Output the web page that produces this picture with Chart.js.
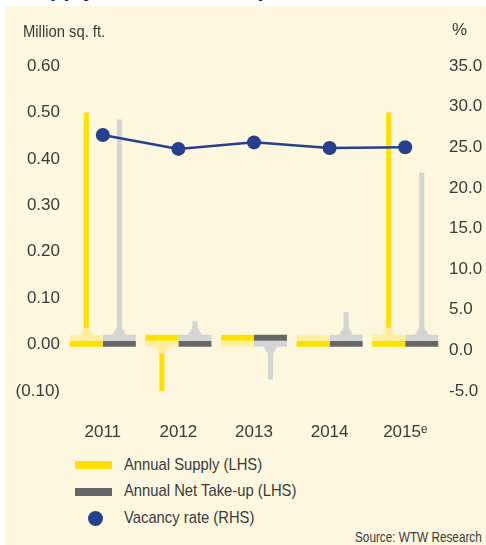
<!DOCTYPE html>
<html>
<head>
<meta charset="utf-8">
<script src="https://cdn.jsdelivr.net/npm/chart.js@4.4.0/dist/chart.umd.min.js"></script>
<style>
  body { margin: 0; background: #fff; width: 486px; height: 545px; overflow: hidden; position: relative;
         font-family: "Liberation Sans", sans-serif; color: #3a3a3a; }
  #title { position: absolute; left: 22px; top: -24px; font: bold 22px "Liberation Sans", sans-serif; color: #222; white-space: nowrap; }
  #panel { position: absolute; left: 5px; top: 6px; width: 481px; height: 539px; background: #FDF7DF; }
  #chart { position: absolute; left: 0; top: 0; }
  .lbl { position: absolute; font-size: 17px; white-space: nowrap; transform-origin: 0 50%; transform: scaleX(0.87); }
  .sw { position: absolute; left: 75px; width: 37px; height: 8px; }
  .dot { position: absolute; left: 88px; width: 15px; height: 15px; border-radius: 50%; background: #263F8E; }
</style>
</head>
<body>
<div id="title">Supply and Net Take-up</div>
<div id="panel"></div>
<canvas id="chart" width="486" height="455"></canvas>

<div class="lbl" style="left:23px;top:22px;">Million sq. ft.</div>
<div class="lbl" style="left:452px;top:20px;transform:none;">%</div>

<!-- legend -->
<div class="sw" style="top:461px;background:#FFE000;"></div>
<div class="lbl" style="left:124px;top:455px;">Annual Supply (LHS)</div>
<div class="sw" style="top:488px;background:#666666;"></div>
<div class="lbl" style="left:124px;top:481px;">Annual Net Take-up (LHS)</div>
<div class="dot" style="top:511px;"></div>
<div class="lbl" style="left:124px;top:508px;">Vacancy rate (RHS)</div>
<div class="lbl" style="left:355px;top:529px;font-size:14px;transform:scaleX(0.84);">Source: WTW Research</div>

<script>
// categories and values
const years = ["2011", "2012", "2013", "2014", "2015\u1D49"];
const supply = [0.50, -0.10, 0.00, 0.005, 0.50];     // million sq. ft.
const netTakeUp = [0.485, 0.05, -0.075, 0.07, 0.37]; // million sq. ft.
const vacancy = [26.5, 24.8, 25.6, 24.9, 25.0];      // %

// the flat "base" strips drawn at zero for every bar
const STRIP_HI = 0.021;
const STRIP_MID = 0.0085;
const STRIP_LO = -0.0045;

const YELLOW = "#FFE000";
const YELLOW_LIGHT = "#FFEFA0";
const GREY_DARK = "#666666";
const GREY_LIGHT = "#D4D4D4";
const BLUE = "#263F8E";

const CAT_PCT = 0.874;

// light strip on top for positive values, dark on top otherwise
function strips(values, dark, light, stack) {
  return [
    {
      type: "bar", stack: stack, order: 1,
      data: values.map(() => [STRIP_MID, STRIP_HI]),
      backgroundColor: values.map(v => (v > 0 ? light : dark)),
      barPercentage: 1, categoryPercentage: CAT_PCT, yAxisID: "y",
    },
    {
      type: "bar", stack: stack, order: 1,
      data: values.map(() => [STRIP_LO, STRIP_MID]),
      backgroundColor: values.map(v => (v > 0 ? dark : light)),
      barPercentage: 1, categoryPercentage: CAT_PCT, yAxisID: "y",
    },
  ];
}

// thin stem from zero to the value, centred in the same slot as its strips
function stem(values, color, flareColor, stack) {
  return {
    type: "bar", stack: stack, order: 2,
    data: values.map(v => [0, v]),
    values: values,
    flareColor: flareColor,
    backgroundColor: color,
    barPercentage: 0.155,
    categoryPercentage: CAT_PCT, yAxisID: "y",
  };
}

// little light flare where a stem meets its strip
const flarePlugin = {
  id: "flare",
  afterDatasetDraw(chart, args) {
    const ds = chart.data.datasets[args.index];
    if (!ds.flareColor) return;
    const y = chart.scales.y;
    const ctx = chart.ctx;
    ctx.save();
    ctx.fillStyle = ds.flareColor;
    args.meta.data.forEach((bar, i) => {
      const v = ds.values[i];
      if (Math.abs(v) < STRIP_HI + 0.01) return;
      const edge = y.getPixelForValue(v > 0 ? STRIP_HI : STRIP_LO);
      const dir = v > 0 ? -1 : 1;
      ctx.beginPath();
      ctx.moveTo(bar.x - 7, edge);
      ctx.lineTo(bar.x - 2.5, edge + dir * 7);
      ctx.lineTo(bar.x + 2.5, edge + dir * 7);
      ctx.lineTo(bar.x + 7, edge);
      ctx.closePath();
      ctx.fill();
    });
    ctx.restore();
  },
};

const tickFont = { family: "'Liberation Sans', sans-serif", size: 17 };
const textColor = "#3a3a3a";

const config = {
  data: {
    labels: years,
    datasets: [
      {
        type: "line", order: 0, yAxisID: "y2",
        data: vacancy,
        borderColor: BLUE, borderWidth: 2.5,
        pointRadius: 7, pointBackgroundColor: BLUE, pointBorderWidth: 0,
        tension: 0,
      },
      ...strips(supply, YELLOW, YELLOW_LIGHT, "supply"),
      ...strips(netTakeUp, GREY_DARK, GREY_LIGHT, "net"),
      stem(supply, YELLOW, YELLOW_LIGHT, "supply"),
      stem(netTakeUp, GREY_LIGHT, GREY_LIGHT, "net"),
    ],
  },
  options: {
    responsive: false,
    animation: false,
    events: [],
    layout: { padding: { top: 66, left: 0, right: 0, bottom: 0 } },
    plugins: { legend: { display: false }, tooltip: { enabled: false } },
    scales: {
      x: {
        grid: { display: false, drawTicks: false },
        border: { display: false },
        ticks: { color: textColor, font: tickFont, padding: 31 },
        afterFit(s) { s.height = 64; },
      },
      y: {
        position: "left",
        stacked: false,
        min: -0.1, max: 0.6,
        grid: { display: false, drawTicks: false },
        border: { display: false },
        ticks: {
          stepSize: 0.1, color: textColor, font: tickFont, padding: 5,
          callback: v => (v < -0.001 ? "(" + Math.abs(v).toFixed(2) + ")" : Math.abs(v).toFixed(2)),
        },
        afterFit(s) { s.width = 65; },
      },
      y2: {
        position: "right",
        min: -5, max: 35,
        grid: { display: false, drawTicks: false },
        border: { display: false },
        ticks: {
          stepSize: 5, color: textColor, font: tickFont, padding: 6,
          callback: v => v.toFixed(1),
        },
        afterFit(s) { s.width = 43; },
      },
    },
  },
  plugins: [flarePlugin],
};

new Chart(document.getElementById("chart"), config);
</script>
</body>
</html>
